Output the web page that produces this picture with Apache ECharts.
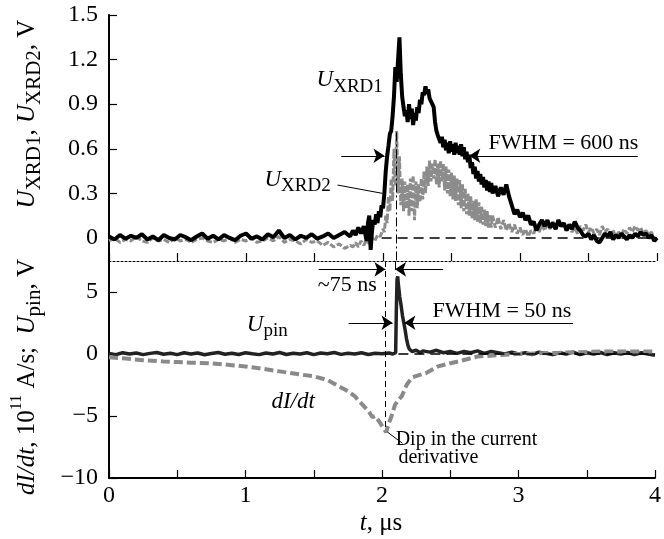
<!DOCTYPE html>
<html>
<head>
<meta charset="utf-8">
<script src="https://cdn.jsdelivr.net/npm/echarts@6/dist/echarts.min.js"></script>
<style>
  html, body { margin: 0; padding: 0; background: #fff; }
  #chart { width: 664px; height: 539px; }
</style>
</head>
<body>
<div id="chart"></div>
<script>
// [t (us), value]
const xrd1 = [
  [0,0.01],[0.04,-0.01],[0.08,0.02],[0.12,-0.005],[0.16,0.015],[0.2,0],[0.24,0.025],[0.28,-0.01],[0.32,0.01],[0.36,-0.015],
  [0.4,0.02],[0.44,0],[0.48,-0.01],[0.52,0.02],[0.56,0.005],[0.6,-0.015],[0.64,0.01],[0.68,0.03],[0.72,-0.005],[0.76,0.015],
  [0.8,-0.01],[0.84,0.02],[0.88,0],[0.92,-0.015],[0.96,0.015],[1,0.03],[1.04,-0.005],[1.08,0.01],[1.12,-0.01],[1.16,0.025],
  [1.2,0.005],[1.24,0.05],[1.28,0],[1.32,0.02],[1.36,-0.01],[1.4,0.015],[1.44,0],[1.48,0.025],[1.52,-0.005],[1.56,0.01],
  [1.6,0.03],[1.64,0],[1.68,0.02],[1.72,0.04],[1.76,0.01],[1.78,0.05],[1.8,0.02],[1.82,0.07],[1.84,0.03],[1.86,0.08],
  [1.88,-0.02],[1.89,0.1],[1.9,0.15],[1.91,-0.08],[1.92,0.05],[1.93,0.12],[1.94,0.09],[1.95,0.16],[1.96,0.1],[1.97,0.18],
  [1.98,0.14],[1.99,0.22],[2,0.2],[2.01,0.3],[2.02,0.45],[2.03,0.55],[2.04,0.62],[2.05,0.7],[2.06,0.72],[2.07,0.82],
  [2.08,0.95],[2.09,1.15],[2.1,1.05],[2.11,1.2],[2.12,1.35],[2.13,1.1],[2.14,0.95],[2.15,0.88],[2.16,0.82],[2.17,0.86],
  [2.18,0.78],[2.19,0.9],[2.2,0.8],[2.21,0.87],[2.22,0.76],[2.23,0.84],[2.24,0.79],[2.25,0.88],[2.26,0.84],[2.27,0.93],
  [2.28,0.9],[2.29,0.98],[2.3,0.96],[2.31,1.02],[2.32,0.97],[2.33,1],[2.34,0.94],[2.35,0.95],[2.36,0.9],[2.37,0.88],
  [2.38,0.78],[2.39,0.72],[2.4,0.69],[2.41,0.68],[2.42,0.64],[2.43,0.68],[2.44,0.61],[2.45,0.66],[2.46,0.59],[2.47,0.64],
  [2.48,0.57],[2.49,0.65],[2.5,0.58],[2.51,0.63],[2.52,0.56],[2.53,0.64],[2.54,0.57],[2.55,0.62],[2.56,0.56],[2.57,0.63],
  [2.58,0.55],[2.59,0.61],[2.6,0.53],[2.61,0.58],[2.62,0.51],[2.63,0.56],[2.64,0.47],[2.65,0.51],[2.66,0.43],[2.67,0.48],
  [2.68,0.4],[2.69,0.45],[2.7,0.38],[2.71,0.43],[2.72,0.36],[2.73,0.41],[2.74,0.34],[2.75,0.39],[2.76,0.32],[2.77,0.38],
  [2.78,0.31],[2.79,0.37],[2.8,0.3],[2.82,0.35],[2.84,0.28],[2.86,0.34],[2.88,0.29],[2.9,0.36],[2.92,0.28],[2.94,0.22],
  [2.96,0.16],[2.98,0.19],[3,0.14],[3.02,0.17],[3.04,0.12],[3.06,0.15],[3.08,0.09],[3.1,0.11],[3.12,0.05],[3.14,0.09],
  [3.16,0.12],[3.18,0.08],[3.2,0.12],[3.22,0.07],[3.24,0.1],[3.26,0.06],[3.28,0.12],[3.3,0.08],[3.32,0.1],[3.34,0.05],
  [3.36,0.09],[3.38,0.06],[3.4,0.11],[3.42,0.07],[3.44,0.05],[3.46,0.02],[3.48,0.01],[3.5,0.03],[3.52,-0.01],[3.54,0.02],
  [3.56,-0.02],[3.58,-0.03],[3.6,0],[3.62,0.03],[3.64,0.01],[3.66,0.04],[3.68,-0.01],[3.7,0.02],[3.72,0],[3.74,0.03],
  [3.76,0.01],[3.78,-0.01],[3.8,0.02],[3.82,0],[3.84,0.03],[3.86,0.01],[3.88,0.04],[3.9,0.02],[3.92,0.03],[3.94,0],
  [3.96,0.02],[3.98,-0.02],[4,0]
];

const xrd2 = [
  [0,-0.02],[0.04,0],[0.08,-0.03],[0.12,-0.01],[0.16,-0.02],[0.2,0.01],[0.24,-0.02],[0.28,-0.03],[0.32,0],[0.36,-0.02],
  [0.4,-0.01],[0.44,-0.03],[0.48,0],[0.52,-0.02],[0.56,-0.01],[0.6,-0.03],[0.64,-0.01],[0.68,0],[0.72,-0.02],[0.76,-0.03],
  [0.8,-0.01],[0.84,-0.02],[0.88,0],[0.92,-0.03],[0.96,-0.01],[1,-0.02],[1.04,0],[1.08,-0.03],[1.12,-0.02],[1.16,0],
  [1.2,-0.02],[1.24,0.01],[1.28,-0.03],[1.32,-0.01],[1.36,-0.02],[1.4,-0.04],[1.44,-0.01],[1.48,-0.03],[1.52,-0.02],[1.56,-0.05],
  [1.6,-0.03],[1.64,-0.06],[1.68,-0.04],[1.72,-0.07],[1.76,-0.05],[1.78,-0.06],[1.8,-0.03],[1.82,-0.06],[1.84,-0.02],[1.86,-0.05],
  [1.88,-0.01],[1.9,-0.04],[1.92,0],[1.94,-0.02],[1.96,0.02],[1.98,0.01],[2,0.06],[2.01,0.04],[2.02,0.15],[2.03,0.1],
  [2.04,0.28],[2.05,0.18],[2.06,0.4],[2.07,0.25],[2.08,0.6],[2.09,0.35],[2.1,0.72],[2.11,0.3],[2.12,0.55],[2.13,0.22],
  [2.14,0.4],[2.15,0.18],[2.16,0.38],[2.17,0.2],[2.18,0.36],[2.19,0.15],[2.2,0.4],[2.21,0.18],[2.22,0.42],[2.23,0.12],
  [2.24,0.38],[2.25,0.2],[2.26,0.36],[2.27,0.24],[2.28,0.4],[2.29,0.26],[2.3,0.45],[2.31,0.3],[2.32,0.48],[2.33,0.35],
  [2.34,0.52],[2.35,0.38],[2.36,0.5],[2.37,0.4],[2.38,0.53],[2.39,0.36],[2.4,0.5],[2.41,0.34],[2.42,0.52],[2.43,0.38],
  [2.44,0.5],[2.45,0.32],[2.46,0.48],[2.47,0.3],[2.48,0.46],[2.49,0.28],[2.5,0.44],[2.51,0.26],[2.52,0.42],[2.53,0.25],
  [2.54,0.4],[2.55,0.22],[2.56,0.39],[2.57,0.2],[2.58,0.36],[2.59,0.18],[2.6,0.33],[2.61,0.16],[2.62,0.3],[2.63,0.15],
  [2.64,0.28],[2.65,0.13],[2.66,0.25],[2.67,0.12],[2.68,0.26],[2.69,0.11],[2.7,0.24],[2.71,0.1],[2.72,0.21],[2.73,0.09],
  [2.74,0.19],[2.75,0.08],[2.76,0.18],[2.77,0.07],[2.78,0.16],[2.79,0.07],[2.8,0.15],[2.82,0.07],[2.84,0.14],[2.86,0.06],
  [2.88,0.12],[2.9,0.05],[2.92,0.1],[2.94,0.04],[2.96,0.09],[2.98,0.03],[3,0.07],[3.02,0.02],[3.04,0.06],[3.06,0.01],
  [3.08,0.05],[3.1,0.03],[3.12,0.08],[3.14,0.04],[3.16,0.09],[3.18,0.05],[3.2,0.1],[3.22,0.06],[3.24,0.11],[3.26,0.07],
  [3.28,0.12],[3.3,0.08],[3.32,0.1],[3.34,0.05],[3.36,0.08],[3.38,0.04],[3.4,0.07],[3.42,0.03],[3.44,0.08],[3.46,0.05],
  [3.48,0.09],[3.5,0.04],[3.52,0.07],[3.54,0.03],[3.56,0.06],[3.58,0.02],[3.6,0.08],[3.62,0.04],[3.64,0.06],[3.66,0.02],
  [3.68,0.05],[3.7,0.01],[3.72,0.04],[3.74,0.02],[3.76,0.06],[3.78,0.03],[3.8,0.07],[3.82,0.04],[3.84,0.08],[3.86,0.05],
  [3.88,0.07],[3.9,0.03],[3.92,0.05],[3.94,0.02],[3.96,0.04],[3.98,-0.01],[4,-0.03]
];

const uPin = [
  [0,0.05],[0.05,-0.05],[0.1,0.1],[0.15,0],[0.2,0.08],[0.25,-0.05],[0.3,0.05],[0.35,0.12],[0.4,-0.02],[0.45,0.06],
  [0.5,-0.05],[0.55,0.1],[0.6,0],[0.65,0.08],[0.7,-0.06],[0.75,0.04],[0.8,0.12],[0.85,-0.02],[0.9,0.06],[0.95,-0.04],
  [1,0.1],[1.05,0.02],[1.1,-0.05],[1.15,0.08],[1.2,0],[1.25,0.12],[1.3,-0.04],[1.35,0.06],[1.4,0],[1.45,0.1],
  [1.5,-0.05],[1.55,0.08],[1.6,0.02],[1.65,0.12],[1.7,-0.03],[1.75,0.06],[1.8,0],[1.85,0.1],[1.9,-0.04],[1.95,0.06],
  [2,0.02],[2.05,0.08],[2.08,0],[2.1,0.1],[2.105,3.5],[2.11,6],[2.115,6.25],[2.12,5.6],[2.13,4.6],[2.14,3.9],
  [2.15,3.1],[2.16,2.5],[2.17,1.9],[2.18,1.2],[2.19,0.7],[2.2,0.4],[2.22,0.2],[2.25,0.3],[2.28,0.1],[2.3,0.25],
  [2.35,0.15],[2.4,0.3],[2.45,0.1],[2.5,0.2],[2.55,0.05],[2.6,0.2],[2.65,0.1],[2.7,0.25],[2.75,0.05],[2.8,0.2],
  [2.85,0.1],[2.9,0],[2.95,0.15],[3,0],[3.05,0.1],[3.1,-0.05],[3.15,0.15],[3.2,0.05],[3.25,-0.05],[3.3,0.1],
  [3.35,0],[3.4,0.15],[3.45,-0.05],[3.5,0.1],[3.55,0],[3.6,0.12],[3.65,-0.05],[3.7,0.1],[3.75,0],[3.8,0.12],
  [3.85,-0.05],[3.9,0.1],[3.95,0],[4,-0.1]
];

const dIdt = [
  [0,-0.27],[0.1,-0.35],[0.25,-0.5],[0.4,-0.6],[0.5,-0.65],[0.6,-0.7],[0.75,-0.75],[0.9,-0.9],[1,-1],[1.1,-1.15],
  [1.25,-1.4],[1.4,-1.65],[1.5,-1.8],[1.6,-2.1],[1.65,-2.4],[1.7,-2.7],[1.75,-3],[1.8,-3.4],[1.85,-4],[1.9,-4.6],
  [1.93,-5.1],[1.95,-5],[1.97,-5.3],[2,-5.8],[2.03,-6.3],[2.05,-5.6],[2.07,-5],[2.095,-4.1],[2.12,-3.7],[2.145,-3.4],
  [2.18,-2.5],[2.22,-1.9],[2.27,-1.7],[2.32,-1.55],[2.41,-1],[2.48,-0.8],[2.56,-0.6],[2.63,-0.4],[2.7,-0.2],[2.85,-0.1],
  [3,0],[3.14,0.05],[3.3,0.1],[3.45,0.15],[3.6,0.2],[3.8,0.2],[4,0.2]
];

const topTicks = [0, 0.3, 0.6, 0.9, 1.2, 1.5];
const bottomTicks = [-10, -5, 0, 5];

const FONT = 'Liberation Serif';
const chart = echarts.init(document.getElementById('chart'));

const arrow = (from, to) => [{ coord: from }, { coord: to, symbol: 'arrow' }];
const plain = (from, to, type) => [{ coord: from, lineStyle: { type: type } }, { coord: to }];

function xAxisCfg(grid, solid) {
  return {
    gridIndex: grid, type: 'value', min: 0, max: 4, interval: 0.5,
    axisLine: { onZero: false, lineStyle: { color: '#000', width: solid ? 2 : 1, type: solid ? 'solid' : [2, 2] } },
    axisTick: { inside: true, length: 8, lineStyle: { color: '#000', width: 1.2 } },
    axisLabel: solid ? {
      color: '#000', fontFamily: FONT, fontSize: 24, margin: 6,
      formatter: v => Number.isInteger(v) ? String(v) : ''
    } : { show: false },
    splitLine: { show: false }
  };
}

function yAxisCfg(grid, min, max, ticks, fmt) {
  return {
    gridIndex: grid, type: 'value', min: min, max: max,
    axisLine: { show: true, onZero: false, lineStyle: { color: '#000', width: 2 } },
    axisTick: { show: true, inside: true, length: 8, customValues: ticks, lineStyle: { color: '#000', width: 1.2 } },
    axisLabel: { customValues: ticks, formatter: fmt, color: '#000', fontFamily: FONT, fontSize: 24, margin: 11 },
    splitLine: { show: false }
  };
}

const markBase = {
  silent: true, animation: false, symbol: ['none', 'none'], symbolSize: 11,
  label: { show: false },
  lineStyle: { color: '#000', width: 1, type: 'solid' },
  emphasis: { disabled: true }
};

chart.setOption({
  animation: false,
  grid: [
    { left: 109, right: 7, top: 15, height: 246 },
    { left: 109, right: 7, top: 261, height: 217 }
  ],
  xAxis: [xAxisCfg(0, false), xAxisCfg(1, true)],
  yAxis: [
    yAxisCfg(0, -0.155, 1.5, topTicks, v => v === 0 ? '0' : v.toFixed(1)),
    yAxisCfg(1, -10, 7.5, bottomTicks, v => v < 0 ? '\u2212' + Math.abs(v) : String(v))
  ],
  series: [
    {
      name: 'UXRD2', type: 'line', xAxisIndex: 0, yAxisIndex: 0, data: xrd2,
      symbol: 'none', z: 2,
      lineStyle: { color: '#8c8c8c', width: 3, type: [6, 2] }
    },
    {
      name: 'UXRD1', type: 'line', xAxisIndex: 0, yAxisIndex: 0, data: xrd1,
      symbol: 'none', z: 3,
      lineStyle: { color: '#000', width: 4 },
      markLine: Object.assign({}, markBase, {
        data: [
          [{ coord: [1.99, 0], lineStyle: { type: [10, 6], width: 1.5 } }, { coord: [4, 0] }],
          plain([2.1, 0.71], [2.1, -0.155], [9, 3, 2, 3]),
          arrow([1.695, 0.553], [2.011, 0.553]),
          arrow([3.86, 0.553], [2.63, 0.553]),
          plain([1.668, 0.356], [1.996, 0.3], 'solid')
        ]
      })
    },
    {
      name: 'Upin', type: 'line', xAxisIndex: 1, yAxisIndex: 1, data: uPin,
      symbol: 'none', z: 3,
      lineStyle: { color: '#222', width: 3.5 },
      markLine: Object.assign({}, markBase, {
        data: [
          plain([2.025, 7.5], [2.025, -6.15], [6, 4]),
          plain([2.1, 7.5], [2.1, 6.5], [9, 3, 2, 3]),
          arrow([1.536, 6.83], [2.025, 6.83]),
          arrow([2.448, 6.83], [2.096, 6.83]),
          arrow([1.755, 2.52], [2.077, 2.52]),
          arrow([3.4, 2.52], [2.164, 2.52]),
          plain([2.04, -6.3], [2.15, -7.2], 'solid'),
          [{ coord: [2.12, 0], lineStyle: { type: [10, 6], width: 1.5 } }, { coord: [4, 0] }]
        ]
      })
    },
    {
      name: 'dIdt', type: 'line', xAxisIndex: 1, yAxisIndex: 1, data: dIdt,
      symbol: 'none', z: 4,
      lineStyle: { color: '#8a8a8a', width: 4, type: [9, 4] }
    }
  ]
});

// text notes placed in data coordinates
const rich = {
  n: { fontFamily: FONT, fontSize: 22, lineHeight: 32, verticalAlign: 'middle', fill: '#000' },
  i: { fontFamily: FONT, fontStyle: 'italic', fontSize: 23, lineHeight: 32, verticalAlign: 'middle', fill: '#000' },
  s: { fontFamily: FONT, fontSize: 19, lineHeight: 14, verticalAlign: 'bottom', fill: '#000' },
  m: { fontFamily: FONT, fontSize: 20, lineHeight: 20, verticalAlign: 'middle', fill: '#000' }
};

const notes = [
  { grid: 0, at: [1.515, 1.06], text: '{i|U}{s|XRD1}' },
  { grid: 0, at: [1.135, 0.39], text: '{i|U}{s|XRD2}' },
  { grid: 0, at: [2.77, 0.64], text: '{n|FWHM = 600 ns}' },
  { grid: 1, at: [1.53, 5.56], text: '{n|~75 ns}' },
  { grid: 1, at: [2.37, 3.49], text: '{n|FWHM = 50 ns}' },
  { grid: 1, at: [1.01, 2.34], text: '{i|U}{s|pin}' },
  { grid: 1, at: [1.19, -3.87], text: '{i|dI/dt}' },
  { grid: 1, at: [2.1, -6.94], text: '{m|Dip in the current}' },
  { grid: 1, at: [2.12, -8.35], text: '{m|derivative}' }
];

const titleRich = {
  n: { fontFamily: FONT, fontSize: 25, lineHeight: 36, verticalAlign: 'middle', fill: '#000' },
  i: { fontFamily: FONT, fontStyle: 'italic', fontSize: 25, lineHeight: 36, verticalAlign: 'middle', fill: '#000' },
  s: { fontFamily: FONT, fontSize: 21, lineHeight: 16, verticalAlign: 'bottom', fill: '#000' },
  p: { fontFamily: FONT, fontSize: 16, lineHeight: 14, verticalAlign: 'top', fill: '#000' }
};

const graphic = notes.map(nt => {
  const p = chart.convertToPixel({ gridIndex: nt.grid }, nt.at);
  return {
    type: 'text', x: p[0], y: p[1], silent: true,
    style: { text: nt.text, rich: rich, align: 'left', verticalAlign: 'middle' }
  };
});

graphic.push(
  {
    type: 'text', x: 27, y: 114, rotation: Math.PI / 2, silent: true,
    style: { text: '{i|U}{s|XRD1}{n|, }{i|U}{s|XRD2}{n|, V}', rich: titleRich, align: 'center', verticalAlign: 'middle' }
  },
  {
    type: 'text', x: 27, y: 377, rotation: Math.PI / 2, silent: true,
    style: { text: '{i|dI/dt}{n|, 10}{p|11}{n| A/s;  }{i|U}{s|pin}{n|, V}', rich: titleRich, align: 'center', verticalAlign: 'middle' }
  },
  {
    type: 'text', x: 381, y: 523, silent: true,
    style: { text: '{i|t}{n|, \u03bcs}', rich: { i: titleRich.i, n: titleRich.n }, align: 'center', verticalAlign: 'middle' }
  }
);

chart.setOption({ graphic: graphic });
</script>
</body>
</html>
